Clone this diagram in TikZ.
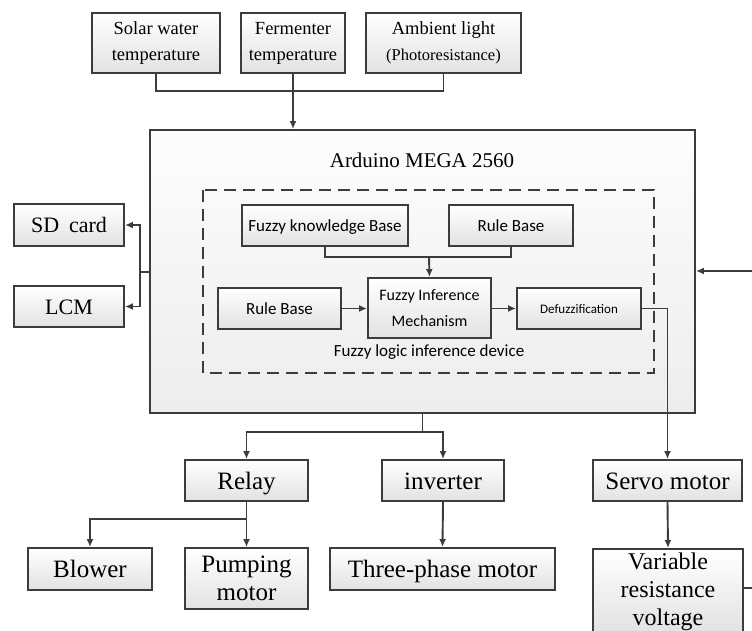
\documentclass[tikz,border=0pt]{standalone}
\usepackage{fontspec}
\usetikzlibrary{arrows.meta}
\setmainfont{Liberation Serif}
\newfontfamily\calib{Carlito}
\definecolor{linegray}{HTML}{3C3C3C}
\definecolor{boxbot}{HTML}{E2E2E2}
\definecolor{boardtop}{HTML}{FDFDFD}
\definecolor{boardbot}{HTML}{EDEDED}
\begin{document}
\begin{tikzpicture}[x=1pt,y=-1pt]
		\tikzstyle box_style=[draw=linegray,line width=1.9pt,top color=white,bottom color=boxbot,inner sep=0pt,align=center];
		\tikzstyle top_text=[font=\fontsize{18.5}{26}\selectfont];
		\tikzstyle low_text=[font=\fontsize{25}{28}\selectfont];
		\tikzstyle one_line=[text height=17pt,text depth=0pt];
		\tikzstyle fuzzy_text=[font=\calib\fontsize{17}{26}\selectfont];
		\tikzstyle wire=[draw=linegray,line width=1.9pt];
		\tikzstyle wire_arrow=[wire,->,>={Latex[length=8pt,width=7pt]}];
		\useasboundingbox (0,0) rectangle (752,630);
		\clip (0,0) rectangle (752,630);

		% SENSORS
		\node[box_style,top_text,minimum width=128pt,minimum height=60pt] (solar) at (156,43) {Solar water\\temperature};
		\node[box_style,top_text,minimum width=104pt,minimum height=60pt] (ferm) at (293,43) {Fermenter\\temperature};
		\node[box_style,top_text,minimum width=155pt,minimum height=60pt] (amb) at (443.5,43) {Ambient light\\{\fontsize{16.5}{26}\selectfont(Photoresistance)}};

		% ARDUINO BOARD
		\node[draw=linegray,line width=1.9pt,top color=boardtop,bottom color=boardbot,minimum width=545pt,minimum height=283pt,inner sep=0pt] (board) at (422.5,271.5) {};
		\node[font=\fontsize{21}{25}\selectfont] (title) at (422,160) {Arduino MEGA 2560};
		\draw[linegray,line width=1.9pt,dash pattern=on 12pt off 7pt] (203,190) rectangle (654,373);

		% FUZZY BLOCKS
		\node[box_style,fuzzy_text,text height=11pt,text depth=0pt,minimum width=166pt,minimum height=41pt] (fkb) at (325,225.5) {Fuzzy knowledge Base};
		\node[box_style,fuzzy_text,text height=11pt,text depth=0pt,minimum width=124pt,minimum height=41pt] (rbtop) at (511,225.5) {Rule Base};
		\node[box_style,fuzzy_text,text height=11pt,text depth=0pt,minimum width=123pt,minimum height=41pt] (rbleft) at (279.5,308.5) {Rule Base};
		\node[box_style,font=\calib\fontsize{16}{26}\selectfont,minimum width=123pt,minimum height=60pt] (fim) at (429.5,308) {Fuzzy Inference\\Mechanism};
		\node[box_style,font=\calib\fontsize{13}{16}\selectfont,text height=9pt,text depth=0pt,minimum width=124pt,minimum height=41pt] (defuz) at (579,308.5) {Defuzzification};
		\node[fuzzy_text] (devlabel) at (429,352) {Fuzzy logic inference device};

		% STORAGE AND DISPLAY
		\node[box_style,font=\fontsize{22}{26}\selectfont,text height=15pt,text depth=0pt,minimum width=110pt,minimum height=42pt] (sd) at (69,225) {SD\hspace{0.45em}card};
		\node[box_style,font=\fontsize{22}{26}\selectfont,text height=15pt,text depth=0pt,minimum width=110pt,minimum height=41pt] (lcm) at (69,306.5) {LCM};

		% ACTUATORS
		\node[box_style,low_text,one_line,minimum width=123pt,minimum height=41pt] (relay) at (246.5,480.5) {Relay};
		\node[box_style,low_text,one_line,minimum width=122pt,minimum height=41pt] (inverter) at (443,480.5) {inverter};
		\node[box_style,low_text,one_line,minimum width=149pt,minimum height=41pt] (servo) at (667.5,480.5) {Servo motor};
		\node[box_style,low_text,one_line,minimum width=124pt,minimum height=42pt] (blower) at (90,569) {Blower};
		\node[box_style,low_text,minimum width=123pt,minimum height=61pt] (pump) at (246.5,578.5) {Pumping\\motor};
		\node[box_style,low_text,one_line,minimum width=225pt,minimum height=42pt] (three) at (442.5,569) {Three-phase motor};
		\node[box_style,font=\fontsize{24}{28}\selectfont,minimum width=150pt,minimum height=85pt,anchor=north] (var) at (668,548) {Variable\\resistance\\voltage};

		% INPUT WIRES
		\draw[wire] (solar.south) |- (ferm.south |- 0,91) -| (amb.south);
		\draw[wire_arrow] (ferm.south) -- (ferm.south |- board.north);

		% FUZZY WIRES
		\coordinate (kbjoin) at (429,257);
		\draw[wire] (fkb.south) |- (kbjoin) -| (rbtop.south);
		\draw[wire_arrow] (kbjoin) -- (fim.north);
		\draw[wire_arrow] (rbleft.east) -- (rbleft.east -| fim.west);
		\draw[wire_arrow] (fim.east |- defuz) -- (defuz.west);
		\draw[wire_arrow] (defuz.east) -| (servo.north);

		% SD / LCM
		\coordinate (split) at (140,272);
		\draw[wire] (board.west |- split) -- (split);
		\draw[wire_arrow] (split) |- (sd.east);
		\draw[wire_arrow] (split) |- (lcm.east);

		% FEEDBACK (cut by the frame)
		\coordinate (fbin) at (752,271);
		\coordinate (fbout) at (752,588);
		\draw[wire_arrow] (fbin) -- (fbin -| board.east);
		\draw[wire] (var.east |- fbout) -- (fbout);

		% OUTPUT WIRES
		\coordinate (outjoin) at (422.5,432);
		\coordinate (relayjoin) at (246.5,519);
		\draw[wire_arrow] (board.south) |- (relay.north |- outjoin) -- (relay.north);
		\draw[wire_arrow] (outjoin) -| (inverter.north);
		\draw[wire_arrow] (relay.south) -- (pump.north);
		\draw[wire_arrow] (relayjoin) -| (blower.north);
		\draw[wire_arrow] (inverter.south) -- (three.north);
		\draw[wire_arrow] (servo.south) -- (var.north);
\end{tikzpicture}
\end{document}
